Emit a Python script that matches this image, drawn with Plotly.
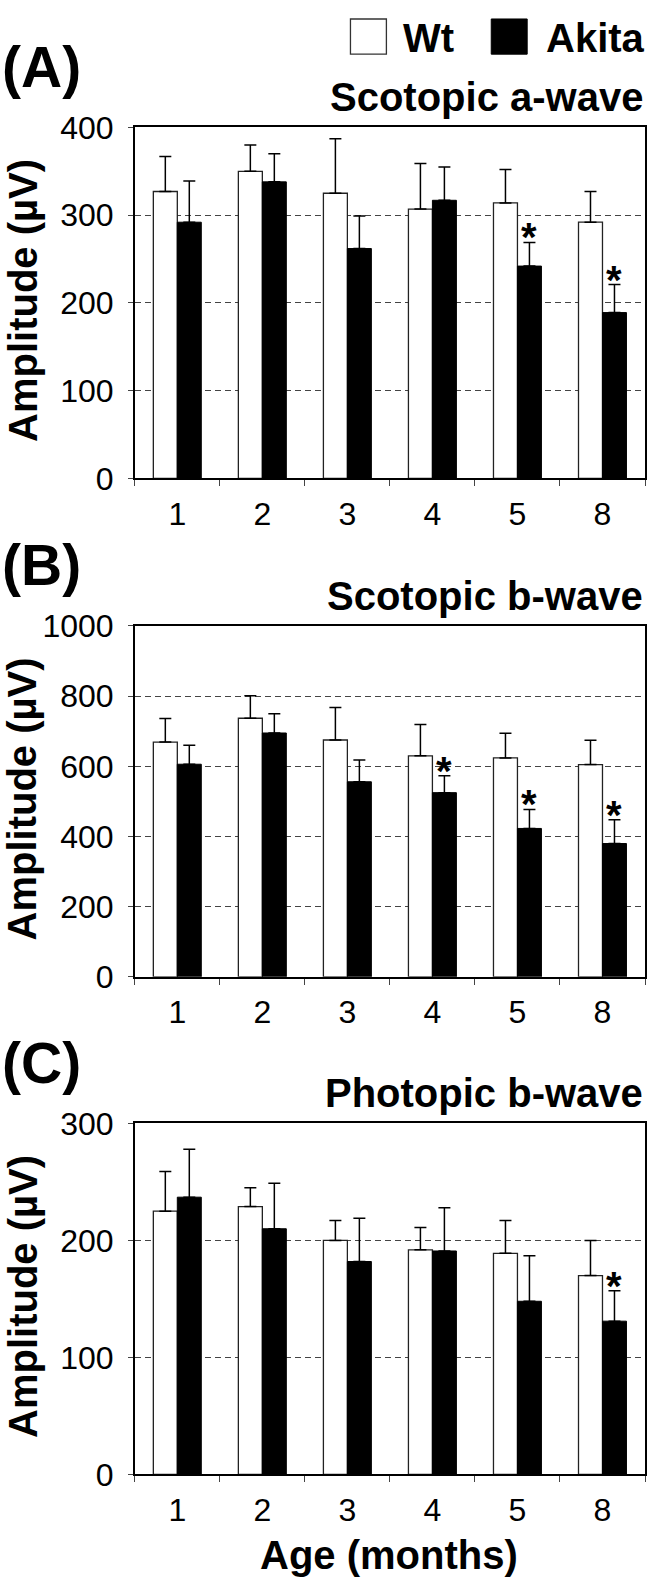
import plotly.graph_objects as go

# ---------------- data ----------------
months = ["1", "2", "3", "4", "5", "8"]

a_wt_mean = [327, 350, 325, 307, 314, 292]
a_wt_err = [40, 30, 62, 52, 38, 35]
a_ak_mean = [292, 338, 262, 317, 242, 189]
a_ak_err = [47, 32, 37, 38, 27, 32]
a_stars = ["5", "8"]

b_wt_mean = [669, 737, 675, 630, 624, 605]
b_wt_err = [67, 64, 93, 89, 70, 69]
b_ak_mean = [606, 695, 556, 525, 423, 380]
b_ak_err = [54, 55, 62, 48, 54, 68]
b_stars = ["4", "5", "8"]

c_wt_mean = [225, 229, 200, 192, 189, 170]
c_wt_err = [34, 16, 17, 19, 28, 30]
c_ak_mean = [237, 210, 182, 191, 148, 131]
c_ak_err = [41, 39, 37, 37, 39, 26]
c_stars = ["8"]

panel_labels = ["(A)", "(B)", "(C)"]
panel_titles = ["Scotopic a-wave", "Scotopic b-wave", "Photopic b-wave"]
y_ranges = [[0, 400], [0, 1000], [0, 300]]
y_dticks = [100, 200, 100]
series_names = ["Wt", "Akita"]
y_title = "Amplitude (µV)"
x_title = "Age (months)"

# ---------------- layout geometry ----------------
W, H = 647, 1596
FONT = "Liberation Sans, Arial, sans-serif"
BARGAP = 0.436


def px(x):
    return x / W


def py(y):
    return 1 - y / H


x_dom = [px(135), px(646)]
panel_px = [(112, 471), (622, 981), (1131, 1490)]

fig = go.Figure()

panels = [
    (a_wt_mean, a_wt_err, a_ak_mean, a_ak_err, a_stars),
    (b_wt_mean, b_wt_err, b_ak_mean, b_ak_err, b_stars),
    (c_wt_mean, c_wt_err, c_ak_mean, c_ak_err, c_stars),
]

annotations = []
shapes = []
layout_axes = {}

for i, (wm, we, am, ae, stars) in enumerate(panels):
    n = i + 1
    xa = "x" if n == 1 else f"x{n}"
    ya = "y" if n == 1 else f"y{n}"
    zeros = [0] * len(months)
    fig.add_trace(go.Bar(
        x=months, y=wm, name=series_names[0], xaxis=xa, yaxis=ya,
        marker=dict(color="white", line=dict(color="#222", width=1.3)),
        error_y=dict(type="data", symmetric=False, array=we, arrayminus=zeros,
                     color="black", thickness=1.5, width=6),
        offsetgroup="wt", showlegend=False,
    ))
    fig.add_trace(go.Bar(
        x=months, y=am, name=series_names[1], xaxis=xa, yaxis=ya,
        marker=dict(color="black", line=dict(color="black", width=1)),
        error_y=dict(type="data", symmetric=False, array=ae, arrayminus=zeros,
                     color="black", thickness=1.5, width=6),
        offsetgroup="ak", showlegend=False,
    ))
    top, bot = panel_px[i]
    layout_axes["xaxis" if n == 1 else f"xaxis{n}"] = dict(
        domain=x_dom, anchor=ya, type="category",
        categoryorder="array", categoryarray=months,
        showline=True, linecolor="black", linewidth=1.5, mirror=True,
        ticks="outside", tickson="boundaries", ticklen=6, tickcolor="#444",
        tickwidth=1.2,
        tickfont=dict(family=FONT, size=32, color="black"),
        ticklabelstandoff=6,
        showgrid=False, zeroline=False, fixedrange=True,
    )
    layout_axes["yaxis" if n == 1 else f"yaxis{n}"] = dict(
        domain=[py(bot), py(top)], anchor=xa, range=y_ranges[i],
        dtick=y_dticks[i], tick0=0,
        showline=True, linecolor="black", linewidth=1.5, mirror=True,
        ticks="outside", ticklen=5, tickcolor="#444", tickwidth=1.2,
        tickfont=dict(family=FONT, size=32, color="black"),
        ticklabelstandoff=8,
        showgrid=True, gridcolor="#444", gridwidth=1, griddash="6px,4px",
        zeroline=False, fixedrange=True,
    )
    # stars above Akita error bars
    off = (1 - BARGAP) / 4
    for s in stars:
        k = months.index(s)
        annotations.append(dict(
            x=k + off, y=am[k] + ae[k], xref=xa, yref=ya,
            text="<b>*</b>", showarrow=False, xanchor="center", yanchor="middle",
            yshift=5, font=dict(family=FONT, size=40, color="black"),
        ))
    # panel label
    annotations.append(dict(
        x=px(0), y=py(top - 62), xref="paper", yref="paper",
        text=f"<b>{panel_labels[i]}</b>", showarrow=False,
        xanchor="left", yanchor="middle",
        font=dict(family=FONT, size=57, color="black"),
    ))
    # panel title
    annotations.append(dict(
        x=px(646), y=py(top - 31), xref="paper", yref="paper",
        text=f"<b>{panel_titles[i]}</b>", showarrow=False,
        xanchor="right", yanchor="middle",
        font=dict(family=FONT, size=40, color="black"),
    ))
    # y title
    annotations.append(dict(
        x=px(23), y=py((top + bot) / 2 - 3), xref="paper", yref="paper",
        text=f"<b>{y_title}</b>", showarrow=False, textangle=-90,
        xanchor="center", yanchor="middle",
        font=dict(family=FONT, size=40, color="black"),
    ))

# x title
annotations.append(dict(
    x=px(390), y=py(1572), xref="paper", yref="paper",
    text=f"<b>{x_title}</b>", showarrow=False,
    xanchor="center", yanchor="middle",
    font=dict(family=FONT, size=40, color="black"),
))

# legend (drawn manually)
shapes.append(dict(type="rect", xref="paper", yref="paper",
                   x0=px(351), x1=px(387), y0=py(37), y1=py(1),
                   fillcolor="white", line=dict(color="#333", width=1.3)))
shapes.append(dict(type="rect", xref="paper", yref="paper",
                   x0=px(492), x1=px(528), y0=py(37), y1=py(1),
                   fillcolor="black", line=dict(color="black", width=1)))
annotations.append(dict(
    x=px(402), y=py(20), xref="paper", yref="paper",
    text=f"<b>{series_names[0]}</b>", showarrow=False,
    xanchor="left", yanchor="middle",
    font=dict(family=FONT, size=40, color="black"),
))
annotations.append(dict(
    x=px(545), y=py(20), xref="paper", yref="paper",
    text=f"<b>{series_names[1]}</b>", showarrow=False,
    xanchor="left", yanchor="middle",
    font=dict(family=FONT, size=40, color="black"),
))

fig.update_layout(
    width=W, height=H,
    margin=dict(l=0, r=0, t=0, b=0),
    paper_bgcolor="white", plot_bgcolor="white",
    barmode="group", bargap=BARGAP, bargroupgap=0,
    showlegend=False,
    annotations=annotations, shapes=shapes,
    font=dict(family=FONT, color="black"),
    **layout_axes,
)

fig.write_html(
    "out.html",
    config={"displayModeBar": False},
    post_script="document.body.style.margin='0';document.body.style.padding='0';"
                "document.body.style.overflow='hidden';"
                "document.documentElement.style.overflow='hidden';",
)
